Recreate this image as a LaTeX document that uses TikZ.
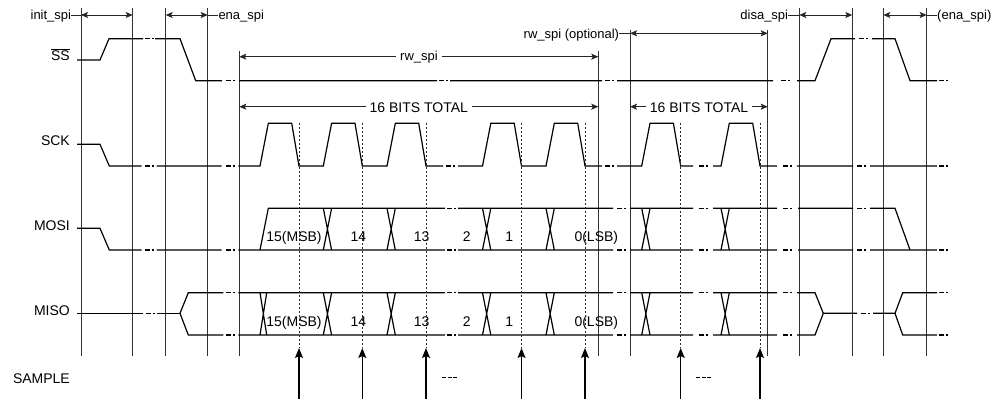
\documentclass[tikz,border=0pt]{standalone}
\usepackage{fontspec}
\setmainfont{Liberation Sans}
\usetikzlibrary{arrows.meta}
\newcommand\gapseg[3]{\draw[sig] ({(#1+#2)/2-4.5},#3)--++(5,0) ++(2,0)--++(2,0);}
\begin{document}
\begin{tikzpicture}[x=1pt,y=-1pt,
  sig/.style={line width=1.2pt,line join=miter,line cap=butt},
  vline/.style={line width=0.9pt,black!80},
  dimarrow/.style={line width=0.9pt,black!85,{Stealth[length=7pt,width=6pt,inset=1.5pt]}-{Stealth[length=7pt,width=6pt,inset=1.5pt]}},
  dimline/.style={line width=0.9pt,black!85},
  dotline/.style={line width=0.8pt,dash pattern=on 2pt off 2pt,black!85},
  samparrow/.style={line width=1.2pt,-{Stealth[length=10pt,width=8pt,inset=2pt]}},
  sname/.style={font=\fontsize{14}{16}\selectfont,inner sep=0pt,anchor=base east},
  bitlbl/.style={font=\fontsize{14}{16}\selectfont,inner sep=0pt,anchor=base},
  tlbl/.style={font=\fontsize{13}{15}\selectfont,inner sep=0pt},
  onlbl/.style={fill=white,inner xsep=4pt,inner ysep=1pt,anchor=base},
]
\useasboundingbox (0,0) rectangle (1008,399);
\fill[white] (0,0) rectangle (1008,399);

% reference rows
\coordinate (r15) at (0,15);
\coordinate (r33) at (0,33.3);
\coordinate (r57) at (0,56.7);
\coordinate (r107) at (0,106.7);

% vertical timing lines
\foreach \n/\x/\t in {A/81/8, B/132.7/8, C/165.7/8, D/207.7/8, E/239.3/50.7, F/598.3/50.7, G/630/30, H/767.7/30, I/799.3/8, J/852.3/8, K/883.3/8, L/926.7/8} {
  \coordinate (\n) at (\x,\t);
  \draw[vline] (\n) -- (\x,356);
}

% dimension arrows and labels
\node[tlbl,anchor=base east] (tinit) at (71.3,19.7) {init\_spi};
\draw[dimline] (tinit.east |- r15) -- (A |- r15);
\draw[dimarrow] (A |- r15) -- (B |- r15);

\draw[dimarrow] (C |- r15) -- (D |- r15);
\node[tlbl,anchor=base west] (tena) at (218.3,19.7) {ena\_spi};
\draw[dimline] (D |- r15) -- (tena.west |- r15);

\draw[dimarrow] (E |- r57) -- (F |- r57);
\node[tlbl,onlbl] (trw) at (419,60.5) {rw\_spi};

\draw[dimarrow] (E |- r107) -- (F |- r107);
\node[bitlbl,onlbl] (tbits1) at (418.8,112) {16 BITS TOTAL};

\node[tlbl,anchor=base east] (trwo) at (619.3,38) {rw\_spi (optional)};
\draw[dimline] (trwo.east |- r33) -- (G |- r33);
\draw[dimarrow] (G |- r33) -- (H |- r33);

\draw[dimarrow] (G |- r107) -- (H |- r107);
\node[bitlbl,onlbl] (tbits2) at (699,112) {16 BITS TOTAL};

\node[tlbl,anchor=base east] (tdisa) at (788.3,19.7) {disa\_spi};
\draw[dimline] (tdisa.east |- r15) -- (I |- r15);
\draw[dimarrow] (I |- r15) -- (J |- r15);

\draw[dimarrow] (K |- r15) -- (L |- r15);
\node[tlbl,anchor=base west] (tena2) at (937,19.7) {(ena\_spi)};
\draw[dimline] (L |- r15) -- (tena2.west |- r15);

% signal names
\node[sname] (nss) at (70,60.5) {$\overline{\hbox{SS}}$};
\node[sname] (nsck) at (70,145) {SCK};
\node[sname] (nmosi) at (70,230.7) {MOSI};
\node[sname] (nmiso) at (70,315) {MISO};
\node[sname] (nsample) at (70,383) {SAMPLE};

% SS
\draw[sig] (77,60)--(100,60)--(109,38.7)--(143,38.7)
  (155,38.7)--(180,38.7)--(195.7,80.7)--(222,80.7)
  (239,80.7)--(437,80.7) (450,80.7)--(602,80.7) (617,80.7)--(773,80.7)
  (797,80.7)--(815,80.7)--(831,38.7)--(855,38.7)
  (872,38.7)--(895,38.7)--(910,80.7)--(937,80.7);
\gapseg{143}{155}{38.7} \gapseg{222}{239}{80.7} \gapseg{437}{450}{80.7}
\gapseg{602}{617}{80.7} \gapseg{773}{797}{80.7} \gapseg{855}{872}{38.7}
\gapseg{937}{950}{80.7}

% SCK
\draw[sig] (77,144.3)--(100,144.3)--(109.3,166)--(141.7,166)
  (156.7,166)--(221.7,166)
  (238.3,166)--(260,166)--(268.3,123.3)--(291.7,123.3)--(299,166)--(323.3,166)--(331.6,123.3)--(355,123.3)--(362.3,166)--(387,166)--(395.3,123.3)--(418.7,123.3)--(426,166)--(443,166)
  (458,166)--(482.5,166)--(490.8,123.3)--(514.2,123.3)--(521.5,166)--(546,166)--(554.3,123.3)--(577.7,123.3)--(585,166)--(602,166)
  (617,166)--(641.7,166)--(650,123.3)--(673.4,123.3)--(680.7,166)--(693,166)
  (713,166)--(721,166)--(729.3,123.3)--(752.7,123.3)--(760,166)--(777,166)
  (797,166)--(853,166)
  (870,166)--(937,166);
\gapseg{141.7}{156.7}{166} \gapseg{221.7}{238.3}{166} \gapseg{443}{458}{166}
\gapseg{602}{617}{166} \gapseg{693}{713}{166} \gapseg{777}{797}{166}
\gapseg{853}{870}{166} \gapseg{937}{950}{166}

% MOSI
\draw[sig] (77,228.3)--(100,228.3)--(109.3,250)--(141.7,250)
  (156.7,250)--(221.7,250) (238.3,250)--(445,250) (458,250)--(613,250)
  (630,250)--(693,250) (713,250)--(777,250) (798,250)--(853,250) (870,250)--(937,250);
\draw[sig] (260,250)--(268.3,208.3)--(445,208.3) (458,208.3)--(613,208.3)
  (630,208.3)--(693,208.3) (713,208.3)--(777,208.3) (798,208.3)--(853,208.3)
  (870,208.3)--(895,208.3)--(910,250);
\gapseg{141.7}{156.7}{250} \gapseg{221.7}{238.3}{250} \gapseg{445}{458}{250}
\gapseg{613}{630}{250} \gapseg{693}{713}{250} \gapseg{777}{798}{250}
\gapseg{853}{870}{250} \gapseg{937}{950}{250}
\gapseg{445}{458}{208.3} \gapseg{613}{630}{208.3} \gapseg{693}{713}{208.3}
\gapseg{777}{798}{208.3} \gapseg{853}{870}{208.3}

% MISO
\draw[sig] (77,313.3)--(143.3,313.3) (156.7,313.3)--(180,313.3);
\draw[sig] (223.3,292.7)--(188.3,292.7)--(180,313.3)--(188.3,335)--(223.3,335);
\draw[sig] (238.3,292.7)--(445,292.7) (458,292.7)--(613,292.7) (630,292.7)--(693,292.7)
  (713,292.7)--(777,292.7) (797,292.7)--(815,292.7)--(823.3,313.3)--(857,313.3)
  (873,313.3)--(895,313.3)--(902.7,292.7)--(937,292.7);
\draw[sig] (238.3,335)--(445,335) (458,335)--(613,335) (630,335)--(693,335)
  (713,335)--(777,335) (797,335)--(815,335)--(823.3,313.3)
  (895,313.3)--(902.7,335)--(937,335);
\gapseg{143.3}{156.7}{313.3} \gapseg{857}{873}{313.3}
\foreach \y in {292.7,335} {
  \gapseg{223.3}{238.3}{\y} \gapseg{445}{458}{\y} \gapseg{613}{630}{\y}
  \gapseg{693}{713}{\y} \gapseg{777}{797}{\y} \gapseg{937}{950}{\y}
}
\draw[sig] (260,292.7)--(266.7,335) (260,335)--(266.7,292.7);

% bit crossings
\foreach \c in {323.3,387,482.5,546,641.7,721} {
  \draw[sig] (\c,208.3)--++(8.3,41.7) (\c,250)--++(8.3,-41.7);
  \draw[sig] (\c,292.7)--++(8.3,42.3) (\c,335)--++(8.3,-42.3);
}

% bit labels
\foreach \x/\t [count=\i] in {294/15(MSB), 358.3/14, 421.7/13, 466.7/2, 509.3/1, 596.3/0(LSB)} {
  \node[bitlbl] (mo\i) at (\x,241) {\t};
  \node[bitlbl] (mi\i) at (\x,326) {\t};
}

% sample lines and arrows
\foreach \x [count=\i] in {299,362.3,426,521.5,585,680.7,760} {
  \coordinate (s\i top) at (\x,123.3);
  \coordinate (s\i tip) at (\x,348);
  \coordinate (s\i base) at (\x,399);
  \draw[dotline] (s\i top) -- (s\i tip);
  \draw[samparrow] (s\i base) -- (s\i tip);
}

% ellipses
\draw[line width=1pt,dash pattern=on 4pt off 1.5pt] (442,377.3) -- (457,377.3);
\draw[line width=1pt,dash pattern=on 4pt off 1.5pt] (696,377.3) -- (711,377.3);
\end{tikzpicture}
\end{document}
